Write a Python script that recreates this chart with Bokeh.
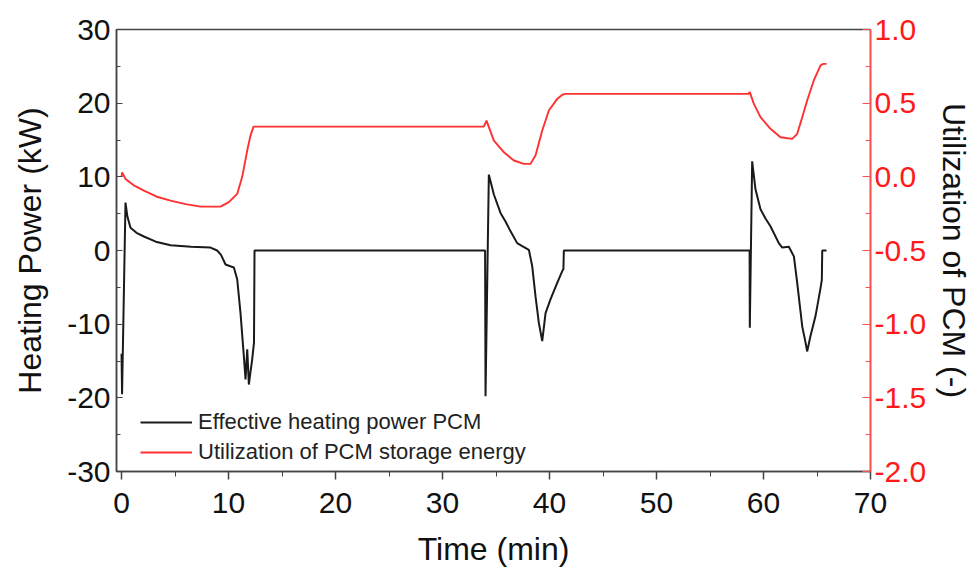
from bokeh.plotting import figure
from bokeh.models import Range1d, LinearAxis, Legend, LegendItem, FixedTicker, CustomJSTickFormatter
from bokeh.embed import file_html
from bokeh.resources import INLINE

# Effective heating power PCM (kW) vs time (min)
time_power = [0.0, 0.05, 0.37, 0.55, 0.84, 1.4, 2.09, 3.2, 4.58, 6.5, 8.32, 8.94, 9.3, 9.72,
              10.1, 10.5, 10.81, 11.12, 11.43, 11.59, 11.75, 11.9, 12.05, 12.21, 12.38, 12.43,
              20.0, 30.0, 33.98, 34.02, 34.33, 34.8, 35.42, 35.9, 36.36, 36.98, 37.45, 38.07,
              38.38, 38.69, 39.0, 39.32, 39.63, 40.1, 40.72, 41.19, 41.3, 41.34, 50.0, 58.7,
              58.72, 58.94, 59.25, 59.72, 60.2, 60.65, 61.43, 61.75, 62.37, 62.84, 63.15, 63.62,
              63.93, 64.08, 64.39, 64.86, 65.33, 65.45, 65.49, 65.89]
heating_power = [-14.0, -19.5, 6.5, 4.6, 3.1, 2.4, 1.9, 1.2, 0.7, 0.5, 0.4, 0.0, -0.6, -1.9,
                 -2.1, -2.3, -3.9, -8.5, -14.3, -17.5, -13.4, -18.2, -16.5, -14.8, -12.5, 0.0,
                 0.0, 0.0, 0.0, -19.8, 10.3, 7.6, 5.1, 3.9, 2.6, 1.0, 0.6, 0.1,
                 -2.1, -6.2, -9.8, -12.3, -8.5, -6.6, -4.4, -2.8, -2.5, 0.0, 0.0, 0.0,
                 -10.5, 12.1, 8.3, 5.6, 4.3, 3.3, 1.0, 0.4, 0.5, -0.8, -4.4, -10.3,
                 -12.5, -13.7, -11.6, -8.9, -5.1, -4.0, 0.0, 0.0]

# Utilization of PCM storage energy (-) vs time (min)
time_util = [0.0, 0.06, 0.37, 1.2, 2.09, 3.3, 4.58, 6.0, 7.38, 9.25, 10.03, 10.81, 11.28,
             11.75, 12.05, 12.34, 20.0, 30.0, 33.86, 34.11, 34.8, 35.73, 36.67, 37.6, 38.22,
             38.69, 39.32, 39.94, 40.72, 41.19, 41.5, 50.0, 58.6, 58.72, 59.1, 59.72, 60.65,
             61.59, 62.68, 63.15, 63.62, 64.08, 64.7, 65.33, 65.6, 65.89]
utilization = [0.0, 0.03, -0.014, -0.06, -0.093, -0.135, -0.161, -0.185, -0.202, -0.202,
               -0.172, -0.116, 0.0, 0.18, 0.28, 0.341, 0.341, 0.341, 0.341, 0.382, 0.246,
               0.167, 0.111, 0.088, 0.088, 0.145, 0.314, 0.45, 0.529, 0.557, 0.563, 0.563,
               0.563, 0.575, 0.495, 0.405, 0.326, 0.269, 0.258, 0.292, 0.405, 0.518, 0.654,
               0.756, 0.767, 0.767]

x_ticks = [0, 10, 20, 30, 40, 50, 60, 70]
left_ticks = [-30, -20, -10, 0, 10, 20, 30]
right_ticks = [-2.0, -1.5, -1.0, -0.5, 0.0, 0.5, 1.0]

FONT = "Liberation Sans"
TICK_SIZE = "30px"
TITLE_SIZE = "32px"

p = figure(width=976, height=572, output_backend="svg", toolbar_location=None,
           x_range=Range1d(-0.47, 70), y_range=Range1d(-30, 30),
           min_border_left=116, min_border_right=106, min_border_top=29, min_border_bottom=101)
p.extra_y_ranges = {"util": Range1d(-2.0, 1.0)}
p.xgrid.visible = False
p.ygrid.visible = False
p.outline_line_color = "#444444"
p.outline_line_width = 1.5
p.background_fill_color = "white"
p.border_fill_color = "white"

black = p.line(time_power, heating_power, line_color="#1a1a1a", line_width=2.0)
red = p.line(time_util, utilization, line_color="#ff3030", line_width=1.9, y_range_name="util")

# bottom axis
xa = p.xaxis[0]
xa.ticker = FixedTicker(ticks=x_ticks, minor_ticks=[5, 15, 25, 35, 45, 55, 65])
xa.formatter = CustomJSTickFormatter(code="return tick.toFixed(0);")
xa.axis_label = "Time (min)"
xa.axis_label_text_font = FONT
xa.axis_label_text_font_size = TITLE_SIZE
xa.axis_label_text_font_style = "normal"
xa.axis_label_text_color = "#111111"
xa.axis_label_standoff = 15
xa.major_label_text_font = FONT
xa.major_label_text_font_size = TICK_SIZE
xa.major_label_text_color = "#111111"
xa.major_label_standoff = 13
xa.axis_line_color = "#444444"
xa.axis_line_width = 1.5
xa.major_tick_in = 0
xa.major_tick_out = 8
xa.minor_tick_in = 0
xa.minor_tick_out = 5
xa.major_tick_line_color = "#444444"
xa.minor_tick_line_color = "#444444"
xa.major_tick_line_width = 1.5

# left axis
ya = p.yaxis[0]
ya.ticker = FixedTicker(ticks=left_ticks, minor_ticks=[-25, -15, -5, 5, 15, 25])
ya.formatter = CustomJSTickFormatter(code="return tick.toFixed(0);")
ya.axis_label = "Heating Power (kW)"
ya.axis_label_text_font = FONT
ya.axis_label_text_font_size = TITLE_SIZE
ya.axis_label_text_font_style = "normal"
ya.axis_label_text_color = "#111111"
ya.axis_label_standoff = 16
ya.major_label_text_font = FONT
ya.major_label_text_font_size = TICK_SIZE
ya.major_label_text_color = "#111111"
ya.major_label_standoff = 6
ya.axis_line_color = "#444444"
ya.axis_line_width = 1.5
ya.major_tick_in = 6
ya.major_tick_out = 0
ya.minor_tick_in = 4
ya.minor_tick_out = 0
ya.major_tick_line_color = "#444444"
ya.minor_tick_line_color = "#444444"

# right axis
ra = LinearAxis(y_range_name="util")
ra.ticker = FixedTicker(ticks=right_ticks, minor_ticks=[-1.75, -1.25, -0.75, -0.25, 0.25, 0.75])
ra.formatter = CustomJSTickFormatter(code="return tick.toFixed(1);")
ra.axis_label = "Utilization of PCM (-)"
ra.axis_label_text_font = FONT
ra.axis_label_text_font_size = TITLE_SIZE
ra.axis_label_text_font_style = "normal"
ra.axis_label_text_color = "#111111"
ra.axis_label_standoff = 7
ra.major_label_text_font = FONT
ra.major_label_text_font_size = TICK_SIZE
ra.major_label_text_color = "#ff1a1a"
ra.major_label_standoff = 4
ra.axis_line_color = "#ff5050"
ra.axis_line_width = 1.5
ra.major_tick_in = 8
ra.major_tick_out = 0
ra.minor_tick_in = 5
ra.minor_tick_out = 0
ra.major_tick_line_color = "#ff5050"
ra.minor_tick_line_color = "#ff5050"
p.add_layout(ra, "right")

legend = Legend(items=[LegendItem(label="Effective heating power PCM", renderers=[black]),
                       LegendItem(label="Utilization of PCM storage energy", renderers=[red])],
                location=(24, 6), orientation="vertical")
legend.label_text_font = FONT
legend.label_text_font_size = "22px"
legend.label_text_color = "#222222"
legend.glyph_width = 52
legend.glyph_height = 20
legend.label_height = 20
legend.label_standoff = 6
legend.spacing = 4
legend.padding = 0
legend.margin = 0
legend.background_fill_alpha = 0
legend.border_line_alpha = 0
p.add_layout(legend)

open("out.html", "w").write(file_html(p, INLINE))
